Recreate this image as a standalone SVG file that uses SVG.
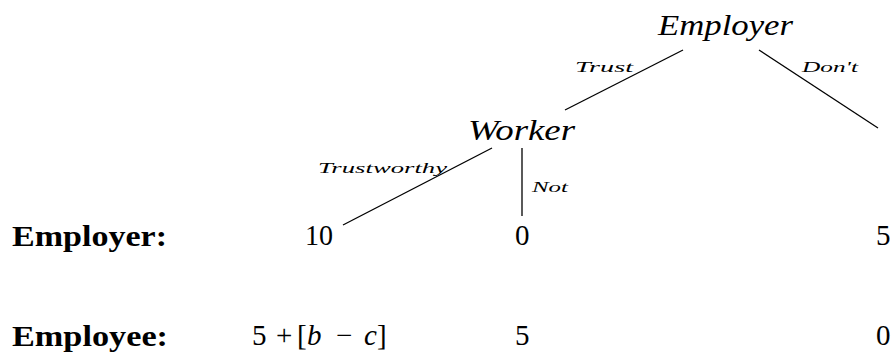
<svg xmlns="http://www.w3.org/2000/svg" width="896" height="364" viewBox="0 0 896 364">
<style>
.node{font-family:"Liberation Serif",serif;font-style:italic;font-size:29px;fill:#000}
.lab{font-family:"Liberation Serif",serif;font-style:italic;font-size:15px;fill:#000}
.num{font-family:"Liberation Serif",serif;font-size:29px;fill:#000}
.it{font-style:italic}
.bold{font-family:"Liberation Serif",serif;font-weight:bold;font-size:29px;fill:#000}
.edge{stroke:#000;stroke-width:1.3;fill:none}
</style>
<rect width="896" height="364" fill="#fff"/>
<g id="connectors">
<line class="edge" x1="683" y1="50" x2="565" y2="110"/>
<line class="edge" x1="759" y1="50" x2="878" y2="128"/>
<line class="edge" x1="492" y1="148" x2="343" y2="225"/>
<line class="edge" x1="522" y1="148" x2="522" y2="216"/>
<text class="lab" x="575" y="72" textLength="58" lengthAdjust="spacingAndGlyphs">Trust</text>
<text class="lab" x="802" y="72" textLength="56" lengthAdjust="spacingAndGlyphs">Don't</text>
<text class="lab" x="318" y="173" textLength="129" lengthAdjust="spacingAndGlyphs">Trustworthy</text>
<text class="lab" x="532" y="192" textLength="36" lengthAdjust="spacingAndGlyphs">Not</text>
</g>
<g id="employer">
<text class="node" x="658" y="35" textLength="135" lengthAdjust="spacingAndGlyphs">Employer</text>
</g>
<g id="worker">
<text class="node" x="468" y="140" textLength="107" lengthAdjust="spacingAndGlyphs">Worker</text>
</g>
<g id="row-labels">
<text class="bold" x="12" y="246" textLength="155" lengthAdjust="spacingAndGlyphs">Employer:</text>
<text class="bold" x="12" y="346" textLength="156" lengthAdjust="spacingAndGlyphs">Employee:</text>
</g>
<g id="payoff-trustworthy">
<text class="num" x="305" y="245" textLength="28" lengthAdjust="spacingAndGlyphs">10</text>
<text class="num" x="252" y="345">5<tspan x="276">+</tspan><tspan x="297">[</tspan><tspan class="it" x="307">b</tspan><tspan x="336">−</tspan><tspan class="it" x="364">c</tspan><tspan x="377">]</tspan></text>
</g>
<g id="payoff-not">
<text class="num" x="515" y="245">0</text>
<text class="num" x="515" y="345">5</text>
</g>
<g id="payoff-dont">
<text class="num" x="876" y="245">5</text>
<text class="num" x="876" y="345">0</text>
</g>
</svg>
